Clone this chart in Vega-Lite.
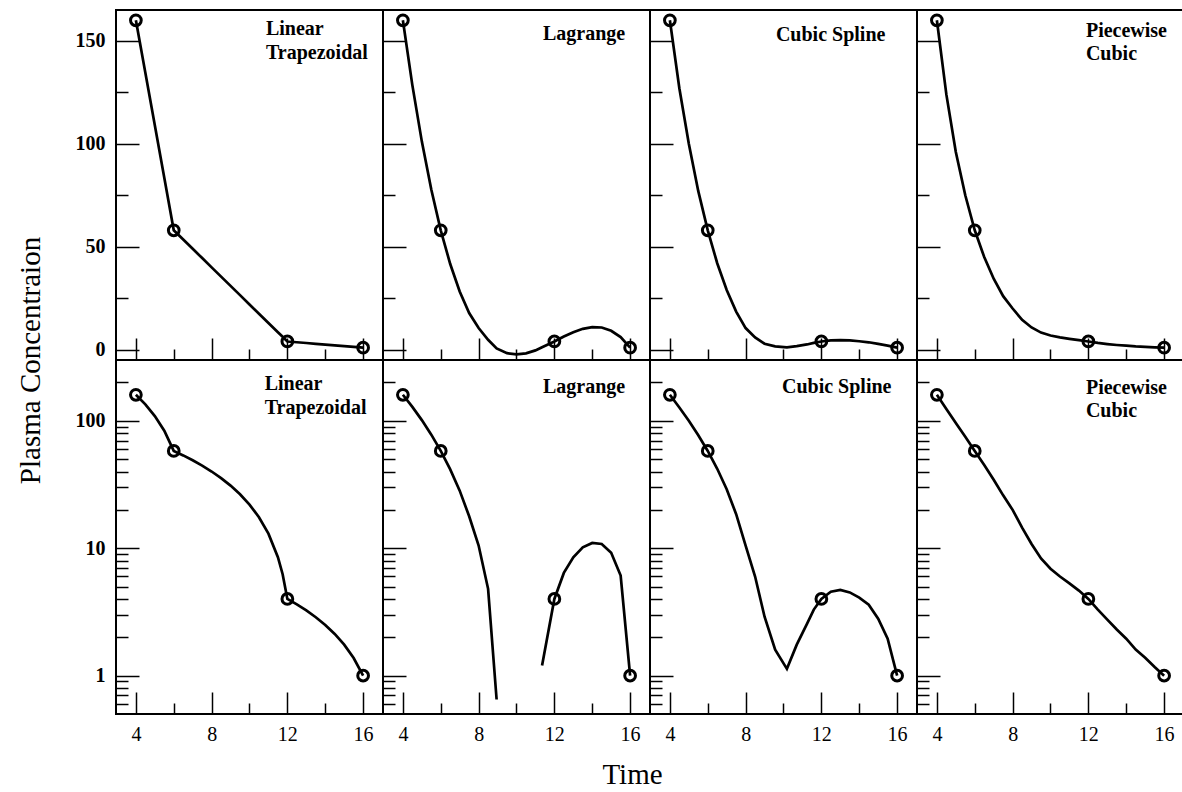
{
  "$schema": "https://vega.github.io/schema/vega-lite/v6.json",
  "padding": {"left": 15, "top": 7, "right": 0, "bottom": 0},
  "background": "white",
  "config": {
    "view": {"stroke": "black", "strokeWidth": 2},
    "axis": {"grid": false, "domain": false, "tickColor": "black", "tickWidth": 1.5, "labelFont": "Liberation Serif", "labelFontSize": 20, "labelColor": "black", "labelOverlap": false, "title": null, "titleFont": "Liberation Serif", "titleFontWeight": "normal", "titleColor": "black"},
    "axisY": {"labelFontWeight": "bold"},
    "text": {"font": "Liberation Serif"},
    "point": {"opacity": 1}
  },
  "datasets": {
    "obs": [{"t": 4, "c": 160}, {"t": 6, "c": 58}, {"t": 12, "c": 4}, {"t": 16, "c": 1}],
    "labels": [
      {"m": "LT", "label": ["Linear", "Trapezoidal"]},
      {"m": "LG", "label": ["Lagrange"]},
      {"m": "CS", "label": ["Cubic Spline"]},
      {"m": "PC", "label": ["Piecewise", "Cubic"]}
    ],
    "curves": [
      {"m": "LT", "t": 4, "c": 160, "s": "a"}, {"m": "LT", "t": 4.5, "c": 134.5, "s": "a"}, {"m": "LT", "t": 5, "c": 109, "s": "a"}, {"m": "LT", "t": 5.5, "c": 83.5, "s": "a"}, {"m": "LT", "t": 6, "c": 58, "s": "a"}, {"m": "LT", "t": 6.5, "c": 53.5, "s": "a"}, {"m": "LT", "t": 7, "c": 49, "s": "a"}, {"m": "LT", "t": 7.5, "c": 44.5, "s": "a"}, {"m": "LT", "t": 8, "c": 40, "s": "a"}, {"m": "LT", "t": 8.5, "c": 35.5, "s": "a"}, {"m": "LT", "t": 9, "c": 31, "s": "a"}, {"m": "LT", "t": 9.5, "c": 26.5, "s": "a"}, {"m": "LT", "t": 10, "c": 22, "s": "a"}, {"m": "LT", "t": 10.5, "c": 17.5, "s": "a"}, {"m": "LT", "t": 11, "c": 13, "s": "a"}, {"m": "LT", "t": 11.5, "c": 8.5, "s": "a"}, {"m": "LT", "t": 11.75, "c": 6.25, "s": "a"}, {"m": "LT", "t": 12, "c": 4, "s": "a"}, {"m": "LT", "t": 12.5, "c": 3.625, "s": "a"}, {"m": "LT", "t": 13, "c": 3.25, "s": "a"}, {"m": "LT", "t": 13.5, "c": 2.875, "s": "a"}, {"m": "LT", "t": 14, "c": 2.5, "s": "a"}, {"m": "LT", "t": 14.5, "c": 2.125, "s": "a"}, {"m": "LT", "t": 15, "c": 1.75, "s": "a"}, {"m": "LT", "t": 15.5, "c": 1.375, "s": "a"}, {"m": "LT", "t": 16, "c": 1, "s": "a"},
      {"m": "LG", "t": 4, "c": 160, "s": "a"}, {"m": "LG", "t": 4.5, "c": 128.5, "s": "a"}, {"m": "LG", "t": 5, "c": 101.2, "s": "a"}, {"m": "LG", "t": 5.5, "c": 77.8, "s": "a"}, {"m": "LG", "t": 6, "c": 58, "s": "a"}, {"m": "LG", "t": 6.5, "c": 41.6, "s": "a"}, {"m": "LG", "t": 7, "c": 28.3, "s": "a"}, {"m": "LG", "t": 7.5, "c": 17.8, "s": "a"}, {"m": "LG", "t": 8, "c": 10.5, "s": "a"}, {"m": "LG", "t": 8.5, "c": 4.8, "s": "a"}, {"m": "LG", "t": 8.95, "c": 0.65, "s": "a"}, {"m": "LG", "t": 9.5, "c": -1.7, "s": "a"}, {"m": "LG", "t": 10, "c": -2.3, "s": "a"}, {"m": "LG", "t": 10.5, "c": -1.76, "s": "a"}, {"m": "LG", "t": 11, "c": -0.34, "s": "a"}, {"m": "LG", "t": 11.35, "c": 1.2, "s": "b"}, {"m": "LG", "t": 12, "c": 4, "s": "b"}, {"m": "LG", "t": 12.5, "c": 6.4, "s": "b"}, {"m": "LG", "t": 13, "c": 8.5, "s": "b"}, {"m": "LG", "t": 13.5, "c": 10.15, "s": "b"}, {"m": "LG", "t": 14, "c": 11, "s": "b"}, {"m": "LG", "t": 14.5, "c": 10.8, "s": "b"}, {"m": "LG", "t": 15, "c": 9.2, "s": "b"}, {"m": "LG", "t": 15.5, "c": 6.1, "s": "b"}, {"m": "LG", "t": 16, "c": 1, "s": "b"},
      {"m": "CS", "t": 4, "c": 160, "s": "a"}, {"m": "CS", "t": 4.5, "c": 127, "s": "a"}, {"m": "CS", "t": 5, "c": 100, "s": "a"}, {"m": "CS", "t": 5.5, "c": 77, "s": "a"}, {"m": "CS", "t": 6, "c": 58, "s": "a"}, {"m": "CS", "t": 6.5, "c": 42, "s": "a"}, {"m": "CS", "t": 7, "c": 29, "s": "a"}, {"m": "CS", "t": 7.5, "c": 18.5, "s": "a"}, {"m": "CS", "t": 8, "c": 10.5, "s": "a"}, {"m": "CS", "t": 8.5, "c": 6, "s": "a"}, {"m": "CS", "t": 9, "c": 2.9, "s": "a"}, {"m": "CS", "t": 9.56, "c": 1.6, "s": "a"}, {"m": "CS", "t": 10.18, "c": 1.13, "s": "a"}, {"m": "CS", "t": 10.7, "c": 1.75, "s": "a"}, {"m": "CS", "t": 11.24, "c": 2.55, "s": "a"}, {"m": "CS", "t": 11.6, "c": 3.3, "s": "a"}, {"m": "CS", "t": 12, "c": 4, "s": "a"}, {"m": "CS", "t": 12.5, "c": 4.55, "s": "a"}, {"m": "CS", "t": 13, "c": 4.7, "s": "a"}, {"m": "CS", "t": 13.5, "c": 4.5, "s": "a"}, {"m": "CS", "t": 14, "c": 4.1, "s": "a"}, {"m": "CS", "t": 14.5, "c": 3.6, "s": "a"}, {"m": "CS", "t": 15, "c": 2.8, "s": "a"}, {"m": "CS", "t": 15.5, "c": 1.95, "s": "a"}, {"m": "CS", "t": 16, "c": 1, "s": "a"},
      {"m": "PC", "t": 4, "c": 160, "s": "a"}, {"m": "PC", "t": 4.5, "c": 124, "s": "a"}, {"m": "PC", "t": 5, "c": 96, "s": "a"}, {"m": "PC", "t": 5.5, "c": 75, "s": "a"}, {"m": "PC", "t": 6, "c": 58, "s": "a"}, {"m": "PC", "t": 6.5, "c": 45, "s": "a"}, {"m": "PC", "t": 7, "c": 34.5, "s": "a"}, {"m": "PC", "t": 7.5, "c": 26, "s": "a"}, {"m": "PC", "t": 8, "c": 20, "s": "a"}, {"m": "PC", "t": 8.5, "c": 14.5, "s": "a"}, {"m": "PC", "t": 9, "c": 10.8, "s": "a"}, {"m": "PC", "t": 9.5, "c": 8.3, "s": "a"}, {"m": "PC", "t": 10, "c": 6.9, "s": "a"}, {"m": "PC", "t": 10.5, "c": 6, "s": "a"}, {"m": "PC", "t": 11, "c": 5.3, "s": "a"}, {"m": "PC", "t": 11.5, "c": 4.65, "s": "a"}, {"m": "PC", "t": 12, "c": 4, "s": "a"}, {"m": "PC", "t": 12.5, "c": 3.3, "s": "a"}, {"m": "PC", "t": 13, "c": 2.75, "s": "a"}, {"m": "PC", "t": 13.5, "c": 2.3, "s": "a"}, {"m": "PC", "t": 14, "c": 1.95, "s": "a"}, {"m": "PC", "t": 14.5, "c": 1.6, "s": "a"}, {"m": "PC", "t": 15, "c": 1.38, "s": "a"}, {"m": "PC", "t": 15.5, "c": 1.17, "s": "a"}, {"m": "PC", "t": 16, "c": 1, "s": "a"}
    ]
  },
  "columns": 4,
  "spacing": 0,
  "bounds": "flush",
  "concat": [
    {
      "width": 267, "height": 350,
      "layer": [
        {"data": {"name": "curves"}, "transform": [{"filter": "datum.m === 'LT'"}], "mark": {"type": "line", "color": "black", "strokeWidth": 2.7, "clip": true},
         "encoding": {"x": {"field": "t", "type": "quantitative", "scale": {"domain": [2.95, 17.05], "nice": false}, "axis": {"values": [4, 6, 8, 10, 12, 14, 16], "labels": false, "tickSize": {"condition": {"test": "datum.value % 4 === 0", "value": -22}, "value": -11}}},
                      "y": {"field": "c", "type": "quantitative", "scale": {"domain": [-5, 165], "nice": false}, "axis": {"values": [0, 25, 50, 75, 100, 125, 150], "labelExpr": "datum.value % 50 === 0 ? datum.label : ''", "labelPadding": 34, "tickSize": {"condition": {"test": "datum.value % 50 === 0", "value": -23}, "value": -12}, "title": "Plasma Concentraion", "titleFontSize": 29, "titleY": 350, "titlePadding": 30}}}},
        {"data": {"name": "obs"}, "mark": {"type": "point", "shape": "circle", "filled": false, "color": "black", "size": 115, "strokeWidth": 3},
         "encoding": {"x": {"field": "t", "type": "quantitative"}, "y": {"field": "c", "type": "quantitative"}}},
        {"data": {"name": "labels"}, "transform": [{"filter": "datum.m === 'LT'"}], "mark": {"type": "text", "align": "left", "baseline": "alphabetic", "fontWeight": "bold", "fontSize": 20, "lineHeight": 24, "color": "black"},
         "encoding": {"x": {"datum": 10.87, "type": "quantitative"}, "y": {"datum": 152.9, "type": "quantitative"}, "text": {"field": "label"}}}
      ]
    },
    {
      "width": 267, "height": 350,
      "layer": [
        {"data": {"name": "curves"}, "transform": [{"filter": "datum.m === 'LG'"}], "mark": {"type": "line", "color": "black", "strokeWidth": 2.7, "clip": true},
         "encoding": {"x": {"field": "t", "type": "quantitative", "scale": {"domain": [2.95, 17.05], "nice": false}, "axis": {"values": [4, 6, 8, 10, 12, 14, 16], "labels": false, "tickSize": {"condition": {"test": "datum.value % 4 === 0", "value": -22}, "value": -11}}},
                      "y": {"field": "c", "type": "quantitative", "scale": {"domain": [-5, 165], "nice": false}, "axis": {"values": [0, 25, 50, 75, 100, 125, 150], "labels": false, "tickSize": {"condition": {"test": "datum.value % 50 === 0", "value": -23}, "value": -12}}}}},
        {"data": {"name": "obs"}, "mark": {"type": "point", "shape": "circle", "filled": false, "color": "black", "size": 115, "strokeWidth": 3},
         "encoding": {"x": {"field": "t", "type": "quantitative"}, "y": {"field": "c", "type": "quantitative"}}},
        {"data": {"name": "labels"}, "transform": [{"filter": "datum.m === 'LG'"}], "mark": {"type": "text", "align": "left", "baseline": "alphabetic", "fontWeight": "bold", "fontSize": 20, "lineHeight": 24, "color": "black"},
         "encoding": {"x": {"datum": 11.4, "type": "quantitative"}, "y": {"datum": 150.4, "type": "quantitative"}, "text": {"field": "label"}}}
      ]
    },
    {
      "width": 267, "height": 350,
      "layer": [
        {"data": {"name": "curves"}, "transform": [{"filter": "datum.m === 'CS'"}], "mark": {"type": "line", "color": "black", "strokeWidth": 2.7, "clip": true},
         "encoding": {"x": {"field": "t", "type": "quantitative", "scale": {"domain": [2.95, 17.05], "nice": false}, "axis": {"values": [4, 6, 8, 10, 12, 14, 16], "labels": false, "tickSize": {"condition": {"test": "datum.value % 4 === 0", "value": -22}, "value": -11}}},
                      "y": {"field": "c", "type": "quantitative", "scale": {"domain": [-5, 165], "nice": false}, "axis": {"values": [0, 25, 50, 75, 100, 125, 150], "labels": false, "tickSize": {"condition": {"test": "datum.value % 50 === 0", "value": -23}, "value": -12}}}}},
        {"data": {"name": "obs"}, "mark": {"type": "point", "shape": "circle", "filled": false, "color": "black", "size": 115, "strokeWidth": 3},
         "encoding": {"x": {"field": "t", "type": "quantitative"}, "y": {"field": "c", "type": "quantitative"}}},
        {"data": {"name": "labels"}, "transform": [{"filter": "datum.m === 'CS'"}], "mark": {"type": "text", "align": "left", "baseline": "alphabetic", "fontWeight": "bold", "fontSize": 20, "lineHeight": 24, "color": "black"},
         "encoding": {"x": {"datum": 9.6, "type": "quantitative"}, "y": {"datum": 150, "type": "quantitative"}, "text": {"field": "label"}}}
      ]
    },
    {
      "width": 267, "height": 350,
      "layer": [
        {"data": {"name": "curves"}, "transform": [{"filter": "datum.m === 'PC'"}], "mark": {"type": "line", "color": "black", "strokeWidth": 2.7, "clip": true},
         "encoding": {"x": {"field": "t", "type": "quantitative", "scale": {"domain": [2.95, 17.05], "nice": false}, "axis": {"values": [4, 6, 8, 10, 12, 14, 16], "labels": false, "tickSize": {"condition": {"test": "datum.value % 4 === 0", "value": -22}, "value": -11}}},
                      "y": {"field": "c", "type": "quantitative", "scale": {"domain": [-5, 165], "nice": false}, "axis": {"values": [0, 25, 50, 75, 100, 125, 150], "labels": false, "tickSize": {"condition": {"test": "datum.value % 50 === 0", "value": -23}, "value": -12}}}}},
        {"data": {"name": "obs"}, "mark": {"type": "point", "shape": "circle", "filled": false, "color": "black", "size": 115, "strokeWidth": 3},
         "encoding": {"x": {"field": "t", "type": "quantitative"}, "y": {"field": "c", "type": "quantitative"}}},
        {"data": {"name": "labels"}, "transform": [{"filter": "datum.m === 'PC'"}], "mark": {"type": "text", "align": "left", "baseline": "alphabetic", "fontWeight": "bold", "fontSize": 20, "lineHeight": 23, "color": "black"},
         "encoding": {"x": {"datum": 11.87, "type": "quantitative"}, "y": {"datum": 151.9, "type": "quantitative"}, "text": {"field": "label"}}}
      ]
    },
    {
      "width": 267, "height": 354,
      "layer": [
        {"data": {"name": "curves"}, "transform": [{"filter": "datum.m === 'LT' && datum.c > 0"}], "mark": {"type": "line", "color": "black", "strokeWidth": 2.7, "clip": true},
         "encoding": {"x": {"field": "t", "type": "quantitative", "scale": {"domain": [2.95, 17.05], "nice": false}, "axis": {"values": [4, 6, 8, 10, 12, 14, 16], "labelExpr": "datum.value % 4 === 0 ? datum.label : ''", "labelPadding": 32, "tickSize": {"condition": {"test": "datum.value % 4 === 0", "value": -22}, "value": -11}}},
                      "y": {"field": "c", "type": "quantitative", "scale": {"type": "log", "domain": [0.5, 300], "nice": false}, "axis": {"values": [0.6, 0.7, 0.8, 0.9, 1, 2, 3, 4, 5, 6, 7, 8, 9, 10, 20, 30, 40, 50, 60, 70, 80, 90, 100, 200], "labelExpr": "indexof([1, 10, 100], datum.value) >= 0 ? format(datum.value, 'd') : ''", "labelPadding": 34, "tickSize": {"condition": {"test": "indexof([1, 10, 100], datum.value) >= 0", "value": -23}, "value": -12}}},
                      "detail": {"field": "s"}}},
        {"data": {"name": "obs"}, "mark": {"type": "point", "shape": "circle", "filled": false, "color": "black", "size": 115, "strokeWidth": 3},
         "encoding": {"x": {"field": "t", "type": "quantitative"}, "y": {"field": "c", "type": "quantitative"}}},
        {"data": {"name": "labels"}, "transform": [{"filter": "datum.m === 'LT'"}], "mark": {"type": "text", "align": "left", "baseline": "alphabetic", "fontWeight": "bold", "fontSize": 20, "lineHeight": 24, "color": "black"},
         "encoding": {"x": {"datum": 10.8, "type": "quantitative"}, "y": {"datum": 174, "type": "quantitative"}, "text": {"field": "label"}}}
      ]
    },
    {
      "width": 267, "height": 354,
      "layer": [
        {"data": {"name": "curves"}, "transform": [{"filter": "datum.m === 'LG' && datum.c > 0"}], "mark": {"type": "line", "color": "black", "strokeWidth": 2.7, "clip": true},
         "encoding": {"x": {"field": "t", "type": "quantitative", "scale": {"domain": [2.95, 17.05], "nice": false}, "axis": {"values": [4, 6, 8, 10, 12, 14, 16], "labelExpr": "datum.value % 4 === 0 ? datum.label : ''", "labelPadding": 32, "tickSize": {"condition": {"test": "datum.value % 4 === 0", "value": -22}, "value": -11}, "title": "Time", "titleFontSize": 29, "titleX": 249, "titlePadding": 5}},
                      "y": {"field": "c", "type": "quantitative", "scale": {"type": "log", "domain": [0.5, 300], "nice": false}, "axis": {"values": [0.6, 0.7, 0.8, 0.9, 1, 2, 3, 4, 5, 6, 7, 8, 9, 10, 20, 30, 40, 50, 60, 70, 80, 90, 100, 200], "labels": false, "tickSize": {"condition": {"test": "indexof([1, 10, 100], datum.value) >= 0", "value": -23}, "value": -12}}},
                      "detail": {"field": "s"}}},
        {"data": {"name": "obs"}, "mark": {"type": "point", "shape": "circle", "filled": false, "color": "black", "size": 115, "strokeWidth": 3},
         "encoding": {"x": {"field": "t", "type": "quantitative"}, "y": {"field": "c", "type": "quantitative"}}},
        {"data": {"name": "labels"}, "transform": [{"filter": "datum.m === 'LG'"}], "mark": {"type": "text", "align": "left", "baseline": "alphabetic", "fontWeight": "bold", "fontSize": 20, "lineHeight": 24, "color": "black"},
         "encoding": {"x": {"datum": 11.4, "type": "quantitative"}, "y": {"datum": 165, "type": "quantitative"}, "text": {"field": "label"}}}
      ]
    },
    {
      "width": 267, "height": 354,
      "layer": [
        {"data": {"name": "curves"}, "transform": [{"filter": "datum.m === 'CS' && datum.c > 0"}], "mark": {"type": "line", "color": "black", "strokeWidth": 2.7, "clip": true},
         "encoding": {"x": {"field": "t", "type": "quantitative", "scale": {"domain": [2.95, 17.05], "nice": false}, "axis": {"values": [4, 6, 8, 10, 12, 14, 16], "labelExpr": "datum.value % 4 === 0 ? datum.label : ''", "labelPadding": 32, "tickSize": {"condition": {"test": "datum.value % 4 === 0", "value": -22}, "value": -11}}},
                      "y": {"field": "c", "type": "quantitative", "scale": {"type": "log", "domain": [0.5, 300], "nice": false}, "axis": {"values": [0.6, 0.7, 0.8, 0.9, 1, 2, 3, 4, 5, 6, 7, 8, 9, 10, 20, 30, 40, 50, 60, 70, 80, 90, 100, 200], "labels": false, "tickSize": {"condition": {"test": "indexof([1, 10, 100], datum.value) >= 0", "value": -23}, "value": -12}}},
                      "detail": {"field": "s"}}},
        {"data": {"name": "obs"}, "mark": {"type": "point", "shape": "circle", "filled": false, "color": "black", "size": 115, "strokeWidth": 3},
         "encoding": {"x": {"field": "t", "type": "quantitative"}, "y": {"field": "c", "type": "quantitative"}}},
        {"data": {"name": "labels"}, "transform": [{"filter": "datum.m === 'CS'"}], "mark": {"type": "text", "align": "left", "baseline": "alphabetic", "fontWeight": "bold", "fontSize": 20, "lineHeight": 24, "color": "black"},
         "encoding": {"x": {"datum": 9.92, "type": "quantitative"}, "y": {"datum": 165, "type": "quantitative"}, "text": {"field": "label"}}}
      ]
    },
    {
      "width": 267, "height": 354,
      "layer": [
        {"data": {"name": "curves"}, "transform": [{"filter": "datum.m === 'PC' && datum.c > 0"}], "mark": {"type": "line", "color": "black", "strokeWidth": 2.7, "clip": true},
         "encoding": {"x": {"field": "t", "type": "quantitative", "scale": {"domain": [2.95, 17.05], "nice": false}, "axis": {"values": [4, 6, 8, 10, 12, 14, 16], "labelExpr": "datum.value % 4 === 0 ? datum.label : ''", "labelPadding": 32, "tickSize": {"condition": {"test": "datum.value % 4 === 0", "value": -22}, "value": -11}}},
                      "y": {"field": "c", "type": "quantitative", "scale": {"type": "log", "domain": [0.5, 300], "nice": false}, "axis": {"values": [0.6, 0.7, 0.8, 0.9, 1, 2, 3, 4, 5, 6, 7, 8, 9, 10, 20, 30, 40, 50, 60, 70, 80, 90, 100, 200], "labels": false, "tickSize": {"condition": {"test": "indexof([1, 10, 100], datum.value) >= 0", "value": -23}, "value": -12}}},
                      "detail": {"field": "s"}}},
        {"data": {"name": "obs"}, "mark": {"type": "point", "shape": "circle", "filled": false, "color": "black", "size": 115, "strokeWidth": 3},
         "encoding": {"x": {"field": "t", "type": "quantitative"}, "y": {"field": "c", "type": "quantitative"}}},
        {"data": {"name": "labels"}, "transform": [{"filter": "datum.m === 'PC'"}], "mark": {"type": "text", "align": "left", "baseline": "alphabetic", "fontWeight": "bold", "fontSize": 20, "lineHeight": 23, "color": "black"},
         "encoding": {"x": {"datum": 11.87, "type": "quantitative"}, "y": {"datum": 162, "type": "quantitative"}, "text": {"field": "label"}}}
      ]
    }
  ]
}
